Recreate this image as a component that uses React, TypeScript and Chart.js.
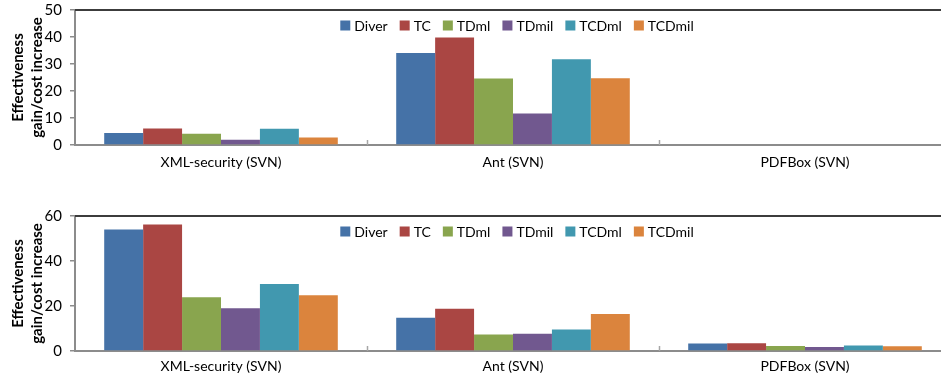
import React, { useEffect, useRef } from "react";
import { Chart, registerables } from "chart.js";

Chart.register(...registerables);

const categories = ["XML-security (SVN)", "Ant (SVN)", "PDFBox (SVN)"];
const seriesNames = ["Diver", "TC", "TDml", "TDmil", "TCDml", "TCDmil"];
const seriesColors = ["#4572A7", "#AA4643", "#89A54E", "#71588F", "#4198AF", "#DB843D"];

// Top chart values (PDFBox has no bars)
const topDiver = [4.4, 34.1, null];
const topTC = [6.1, 39.8, null];
const topTDml = [4.2, 24.6, null];
const topTDmil = [1.9, 11.7, null];
const topTCDml = [6.0, 31.8, null];
const topTCDmil = [2.8, 24.7, null];

// Bottom chart values
const botDiver = [54.0, 14.8, 3.3];
const botTC = [56.2, 18.8, 3.4];
const botTDml = [23.9, 7.3, 2.2];
const botTDmil = [19.0, 7.7, 1.8];
const botTCDml = [29.8, 9.6, 2.4];
const botTCDmil = [24.8, 16.4, 2.1];

const topTicksMax = 50;
const topTickStep = 10;
const botTicksMax = 60;
const botTickStep = 20;

const yTitle = ["Effectiveness", "gain/cost increase"];
const FONT = "Lato, 'Open Sans', sans-serif";

const framePlugin = {
  id: "frame",
  afterDraw(chart: any) {
    const { ctx, chartArea, scales } = chart;
    const { left, right, top, bottom } = chartArea;
    const x = scales.x;
    ctx.save();
    // top border of plot area
    ctx.strokeStyle = "#3c3c3c";
    ctx.lineWidth = 2;
    ctx.beginPath();
    ctx.moveTo(left, top);
    ctx.lineTo(right + 2, top);
    ctx.stroke();
    // inside tick marks at category boundaries
    ctx.strokeStyle = "#a6a6a6";
    ctx.lineWidth = 1.5;
    for (let i = 1; i < categories.length; i++) {
      const bx = Math.round(x.getPixelForValue(i - 0.5)) + 0.5;
      ctx.beginPath();
      ctx.moveTo(bx, bottom);
      ctx.lineTo(bx, bottom - 5);
      ctx.stroke();
    }
    // legend inside plot area, horizontal, centered
    ctx.font = "14px " + FONT;
    const box = 10;
    const gapText = 4;
    const gapItem = 12;
    const widths = seriesNames.map((n) => box + gapText + ctx.measureText(n).width);
    const total = widths.reduce((a, b) => a + b, 0) + gapItem * (seriesNames.length - 1);
    let cx = (left + right) / 2 - total / 2 + 4;
    const cy = top + 15.5;
    ctx.textBaseline = "middle";
    ctx.textAlign = "left";
    seriesNames.forEach((n, i) => {
      ctx.fillStyle = seriesColors[i];
      ctx.fillRect(cx, cy - box / 2, box, box);
      ctx.fillStyle = "#000";
      ctx.fillText(n, cx + box + gapText, cy + 0.5);
      cx += widths[i] + gapItem;
    });
    ctx.restore();
  },
};

function makeConfig(
  values: (number | null)[][],
  max: number,
  step: number,
  padTop: number,
  xHeight: number,
  labelPad: number
): any {
  return {
    type: "bar",
    data: {
      labels: categories,
      datasets: seriesNames.map((name, i) => ({
        label: name,
        data: values[i],
        backgroundColor: seriesColors[i],
        borderWidth: 0,
        categoryPercentage: 0.8,
        barPercentage: 1.0,
      })),
    },
    options: {
      animation: false,
      responsive: false,
      maintainAspectRatio: false,
      layout: { padding: { top: padTop, right: 1, left: 0, bottom: 0 } },
      plugins: {
        legend: { display: false },
        tooltip: { enabled: false },
      },
      scales: {
        x: {
          grid: { display: false },
          border: { display: true, color: "#8c8c8c", width: 2 },
          ticks: { color: "#000", font: { family: FONT, size: 14 }, padding: labelPad },
          afterFit: (s: any) => {
            s.height = xHeight;
            s.paddingLeft = 0;
            s.paddingRight = 0;
          },
        },
        y: {
          min: 0,
          max: max,
          grid: { display: true, drawOnChartArea: false, drawTicks: true, tickLength: 5, color: "#8c8c8c", lineWidth: 1.5 },
          border: { display: true, color: "#8c8c8c", width: 2 },
          ticks: { stepSize: step, color: "#000", font: { family: FONT, size: 15 }, padding: 8 },
          title: {
            display: true,
            text: yTitle,
            color: "#000",
            font: { family: FONT, size: 15, weight: "bold", lineHeight: 1.3 },
            padding: { top: 8, bottom: 0 },
          },
          afterFit: (s: any) => {
            s.width = 75;
            s.paddingTop = 0;
            s.paddingBottom = 0;
          },
        },
      },
    },
    plugins: [framePlugin],
  };
}

function BarChart(props: { config: any; width: number; height: number; top: number }) {
  const ref = useRef<HTMLCanvasElement | null>(null);
  useEffect(() => {
    if (!ref.current) return;
    const chart = new Chart(ref.current, props.config);
    return () => chart.destroy();
  }, []);
  return (
    <canvas
      ref={ref}
      width={props.width}
      height={props.height}
      style={{ position: "absolute", left: 0, top: props.top, width: props.width, height: props.height }}
    />
  );
}

export default function App() {
  const topConfig = makeConfig([topDiver, topTC, topTDml, topTDmil, topTCDml, topTCDmil], topTicksMax, topTickStep, 10, 45, 1);
  const botConfig = makeConfig([botDiver, botTC, botTDml, botTDmil, botTCDml, botTCDmil], botTicksMax, botTickStep, 26, 27, -1);
  return (
    <div
      style={{
        position: "absolute",
        left: 0,
        top: 0,
        width: 941,
        height: 378,
        overflow: "hidden",
        background: "#fff",
      }}
    >
      <BarChart config={topConfig} width={952} height={190} top={0} />
      <BarChart config={botConfig} width={952} height={188} top={190} />
    </div>
  );
}
